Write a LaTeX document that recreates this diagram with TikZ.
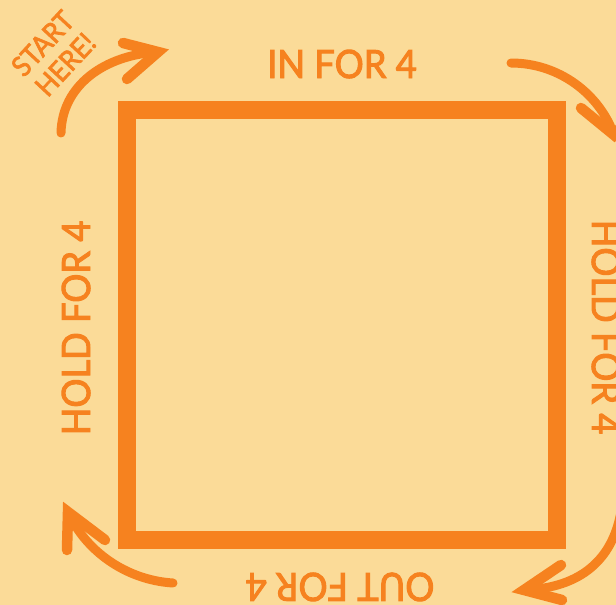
\documentclass[tikz,border=0pt]{standalone}
\usepackage{fontspec}
\setmainfont{Lato}[FakeBold=2.5,FakeStretch=0.93]
\definecolor{bg}{HTML}{FBDB98}
\definecolor{org}{HTML}{F6821F}
\begin{document}
\begin{tikzpicture}[x=1pt,y=-1pt,
  lbl/.style={text=org,font=\fontsize{39}{40}\selectfont,inner sep=0pt},
  shaft/.style={draw=org,line width=9pt,line cap=round},
  barb/.style={draw=org,line width=10.5pt,line cap=round}]
\useasboundingbox (0,0) rectangle (616,605);
\clip (0,0) rectangle (616,605);
\fill[bg] (0,0) rectangle (616,605);
% square
\draw[org,line width=18pt] (126.5,110) rectangle (556.5,540);
% labels
\node[lbl,anchor=base] (top) at (342,78) {IN FOR 4};
\node[lbl,anchor=base,rotate=90] (left) at (90,328) {HOLD FOR 4};
\node[lbl,anchor=base,rotate=-90] (right) at (592,327) {HOLD FOR 4};
\node[lbl,anchor=base,rotate=180] (bottom) at (340,573) {OUT FOR 4};
\node[text=org,font=\fontsize{28}{31}\selectfont,rotate=47,align=center,inner sep=0pt] (start) at (54,54) {START\\HERE!};
% arrow 1 (top-left)
\coordinate (a1s) at (61,133); \coordinate (a1t) at (158,52);
\coordinate (a1b) at (123,43); \coordinate (a1c) at (127,79);
\draw[shaft] (a1s) .. controls (62,85) and (105,55) .. (a1t);
\draw[barb] (a1b) -- (a1t) -- (a1c);
% arrow 2 (top-right)
\coordinate (a2s) at (511,63); \coordinate (a2t) at (614,135);
\coordinate (a2b) at (581,108); \coordinate (a2c) at (640,105);
\draw[shaft] (a2s) .. controls (560,63) and (600,95) .. (a2t);
\draw[barb] (a2b) -- (a2t) -- (a2c);
% arrow 3 (bottom-right)
\coordinate (a3s) at (622,505); \coordinate (a3t) at (524,590);
\coordinate (a3b) at (561,565); \coordinate (a3c) at (562,600);
\draw[shaft] (a3s) .. controls (615,560) and (580,588) .. (a3t);
\draw[barb] (a3b) -- (a3t) -- (a3c);
% arrow 4 (bottom-left)
\coordinate (a4s) at (173,583); \coordinate (a4t) at (68,512);
\coordinate (a4b) at (105,540); \coordinate (a4c) at (67,550);
\draw[shaft] (a4s) .. controls (125,580) and (85,550) .. (a4t);
\draw[barb] (a4b) -- (a4t) -- (a4c);
\end{tikzpicture}
\end{document}
